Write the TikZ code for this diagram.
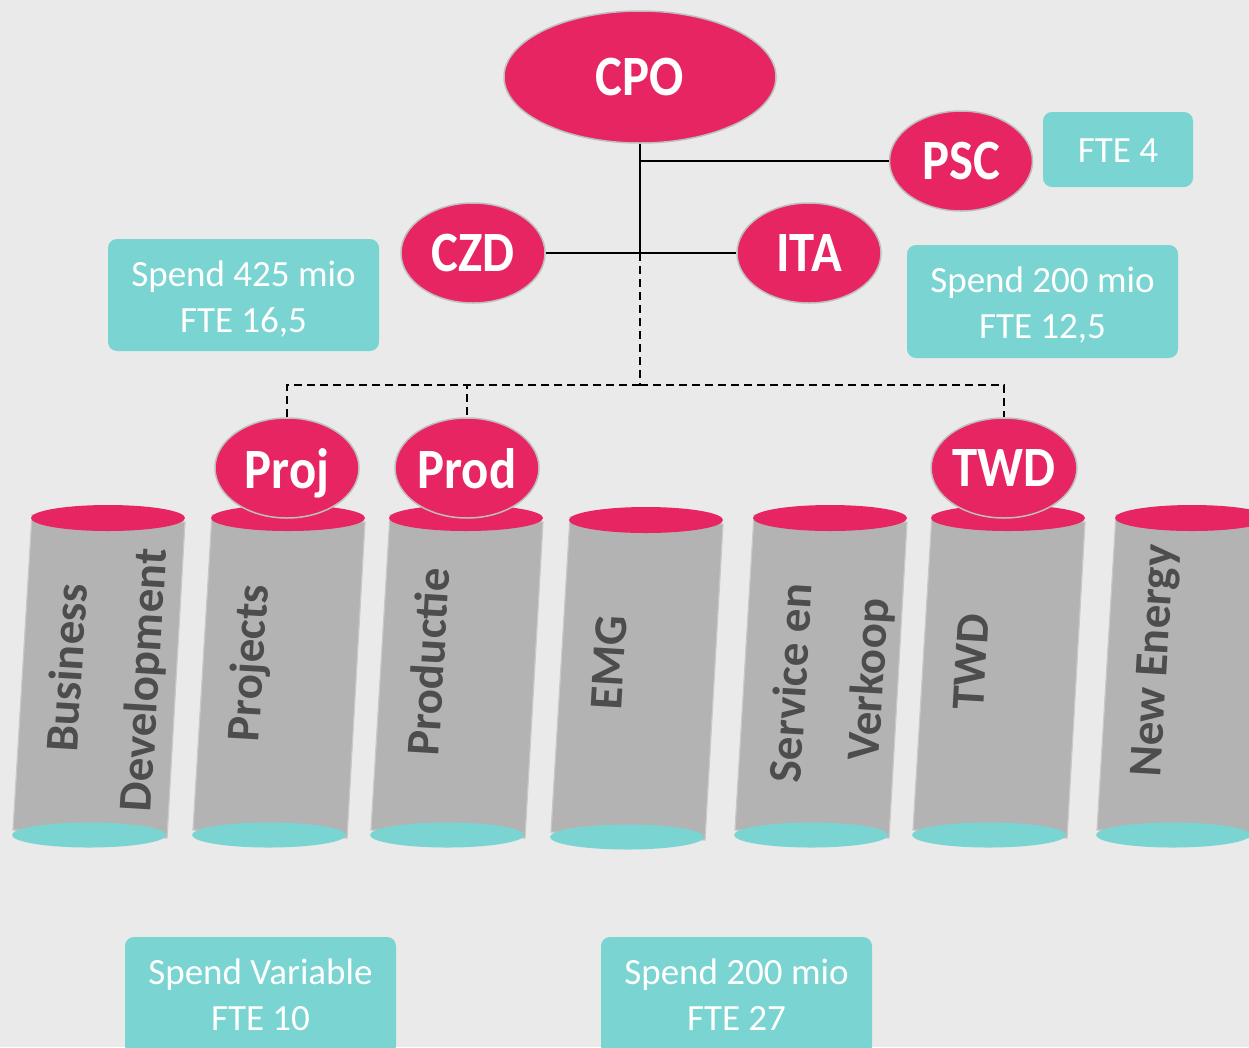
\documentclass[tikz,border=0pt]{standalone}
\usepackage{fontspec}
\setmainfont{Carlito}
\newfontfamily\ellfont{Carlito}[FakeStretch=0.89]
\usetikzlibrary{shapes.geometric}
\definecolor{bgc}{RGB}{234,234,234}
\definecolor{pinkc}{RGB}{231,37,98}
\definecolor{tealc}{RGB}{122,213,210}
\definecolor{pillc}{RGB}{179,179,179}
\definecolor{pilledge}{RGB}{200,200,200}
\definecolor{txtdark}{RGB}{77,77,77}
\definecolor{elledge}{RGB}{190,190,190}
\begin{document}
\begin{tikzpicture}[x=1pt,y=-1pt,
  ell/.style={ellipse, fill=pinkc, draw=elledge, line width=1.5pt, inner sep=0pt,
    text=white, text depth=0pt, font=\ellfont\bfseries\fontsize{57}{60}\selectfont},
  infobox/.style={fill=tealc, rounded corners=9pt, inner sep=0pt},
  boxtxt/.style={text=white, inner sep=0pt, align=center, font=\fontsize{37}{46}\selectfont},
  pilltxt/.style={rotate=86.6, text=txtdark, inner sep=0pt,
    font=\bfseries\fontsize{47}{50}\selectfont},
  solidln/.style={black},
  dashln/.style={black, line width=2.2pt, dash pattern=on 8pt off 5pt}
]
\useasboundingbox (0,0) rectangle (1249,1047);
\clip (0,0) rectangle (1249,1047);
\fill[bgc] (0,0) rectangle (1249,1047);

% top ellipses
\node[ell, minimum width=272pt, minimum height=132pt] (CPO) at (640,77) {CPO};
\node[ell, minimum width=143pt, minimum height=100pt] (PSC) at (961,161) {PSC};
\node[ell, minimum width=144pt, minimum height=100pt] (CZD) at (473,253) {CZD};
\node[ell, minimum width=144pt, minimum height=100pt] (ITA) at (809,253) {ITA};

% connectors
\coordinate (j1) at (640,161);
\coordinate (j2) at (640,253);
\coordinate (j3) at (640,385);
\draw[solidln, line width=2.6pt] (CPO.south) -- (j2);
\draw[solidln, line width=1.6pt] (j1) -- (PSC.west);
\draw[solidln, line width=2.2pt] (CZD.east) -- (ITA.west);

% info boxes
\node[infobox, minimum width=150pt, minimum height=75pt] (b1) at (1118,149.5) {};
\node[boxtxt] (t1) at ([yshift=-1pt]b1.center) {FTE 4};
\node[infobox, minimum width=271pt, minimum height=112pt] (b2) at (243.5,295) {};
\node[boxtxt] (t2) at ([yshift=-4pt]b2.center) {Spend 425 mio\\FTE 16,5};
\node[infobox, minimum width=271pt, minimum height=113pt] (b3) at (1042.5,301.5) {};
\node[boxtxt] (t3) at ([yshift=-4pt]b3.center) {Spend 200 mio\\FTE 12,5};
\node[infobox, minimum width=271pt, minimum height=118pt] (b4) at (260.5,996) {};
\node[boxtxt] (t4) at ([yshift=1pt]b4.center) {Spend Variable\\FTE 10};
\node[infobox, minimum width=271pt, minimum height=118pt] (b5) at (736.5,996) {};
\node[boxtxt] (t5) at ([yshift=1pt]b5.center) {Spend 200 mio\\FTE 27};

% pillars
\foreach \cx/\cy in {108/518, 288/518, 466/518, 646/520, 830/518, 1008/518, 1192/518}{
  \filldraw[fill=pillc, draw=pilledge, line width=1.2pt]
    (\cx-76,\cy-3) -- (\cx+77,\cy+4) -- (\cx+59,\cy+320) -- (\cx-95,\cy+312) -- cycle;
  \fill[tealc] (\cx-19,\cy+317) ellipse [x radius=77, y radius=12.5];
  \fill[pinkc] (\cx,\cy) ellipse [x radius=77, y radius=13];
}

% pillar labels
\node[pilltxt] (l1a) at (66,668) {Business};
\node[pilltxt] (l1b) at (146,680) {Development};
\node[pilltxt] (l2) at (251,663) {Projects};
\node[pilltxt] (l3) at (428,662) {Productie};
\node[pilltxt] (l4) at (609,663) {EMG};
\node[pilltxt] (l5a) at (790,683) {Service en};
\node[pilltxt] (l5b) at (871,680) {Verkoop};
\node[pilltxt] (l6) at (971,662) {TWD};
\node[pilltxt] (l7) at (1156,661) {New Energy};

% lower ellipses
\node[ell, minimum width=144pt, minimum height=100pt] (Proj) at (287,468) {Proj};
\node[ell, minimum width=144pt, minimum height=100pt] (Prod) at (467,468) {Prod};
\node[ell, minimum width=144pt, minimum height=100pt] (TWD) at (1004,468) {TWD};

% dashed connectors
\draw[dashln] (j2) -- (j3);
\draw[dashln] (j3) -| (Proj.north);
\draw[dashln] (j3) -| (Prod.north);
\draw[dashln] (j3) -| (TWD.north);
\end{tikzpicture}
\end{document}
